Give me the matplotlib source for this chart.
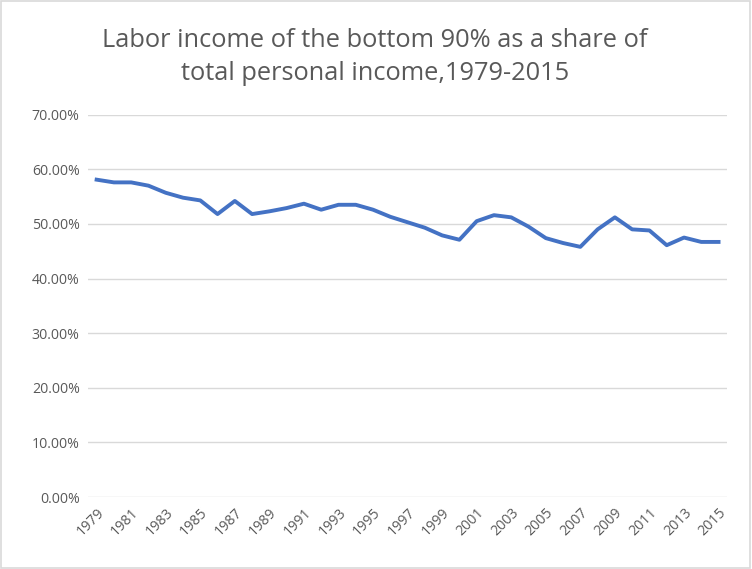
import numpy as np
import matplotlib.pyplot as plt
from matplotlib.patches import Rectangle

# Labor income share of bottom 90%
years = list(range(1979, 2016))
share = [58.1, 57.6, 57.6, 57.0, 55.7, 54.8, 54.3, 51.8, 54.2, 51.8,
         52.3, 52.9, 53.7, 52.6, 53.5, 53.5, 52.6, 51.3, 50.3, 49.3,
         47.9, 47.1, 50.5, 51.6, 51.2, 49.5, 47.4, 46.5, 45.8, 49.0,
         51.2, 49.0, 48.8, 46.1, 47.5, 46.7, 46.7]
yticks = [0, 10, 20, 30, 40, 50, 60, 70]

plt.rcParams['font.family'] = ['Open Sans', 'DejaVu Sans']

fig = plt.figure(figsize=(7.52, 5.69), dpi=100)
ax = fig.add_axes([0.117, 0.1265, 0.850, 0.672])

x = np.arange(len(years))
ax.plot(x, share, color='#4472C4', linewidth=2.8, solid_joinstyle='round')

ax.set_xlim(-0.5, len(years) - 0.5)
ax.set_ylim(0, 70)
ax.set_yticks(yticks)
ax.set_yticklabels([f"{v:.2f}%" for v in yticks], color='#595959', fontsize=10.2)
ax.set_xticks(x[::2])
ax.set_xticklabels([str(y) for y in years[::2]], rotation=45, ha='right',
                   rotation_mode='anchor', color='#595959', fontsize=10.2)
ax.tick_params(length=0, pad=6)
ax.grid(axis='y', color='#d9d9d9', linewidth=1)
ax.set_axisbelow(True)
for s in ax.spines.values():
    s.set_visible(False)

fig.text(0.499, 0.900, "Labor income of the bottom 90% as a share of\ntotal personal income,1979-2015",
         ha='center', va='center', fontsize=18.3, color='#595959', linespacing=1.4)

fig.patches.append(Rectangle((0.001, 0.001), 0.997, 0.997, transform=fig.transFigure,
                             fill=False, edgecolor='#d9d9d9', linewidth=1.2))

fig.savefig('out.png', dpi=100)
